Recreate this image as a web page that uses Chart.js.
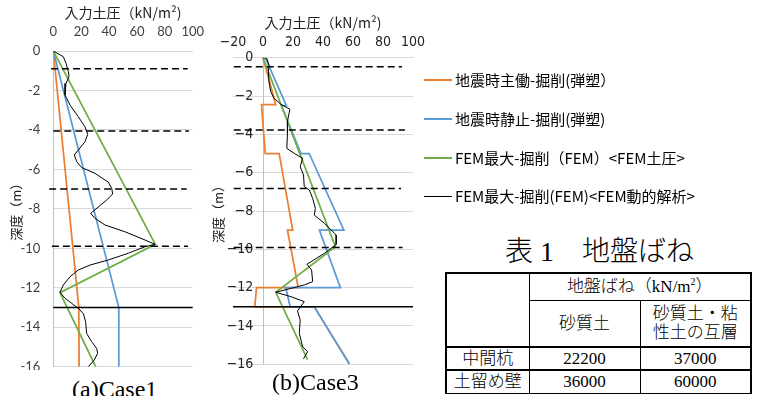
<!DOCTYPE html>
<html><head><meta charset="utf-8">
<script src="https://cdn.jsdelivr.net/npm/chart.js@4/dist/chart.umd.min.js"></script>
<style>
html,body{margin:0;padding:0;background:#fff;}
body{width:760px;height:396px;overflow:hidden;position:relative;font-family:"Noto Sans CJK JP",sans-serif;color:#000;}
canvas{position:absolute;top:0;}
#c1{left:0;width:206px;height:370px;}
#c2{left:200px;width:226px;height:368px;}
.cap{position:absolute;font-family:"Liberation Serif",serif;font-size:24px;line-height:24px;white-space:nowrap;color:#000;}
.lg{position:absolute;left:424px;height:20px;margin-top:-10px;display:flex;align-items:center;white-space:nowrap;font-size:15px;line-height:20px;color:#000;}
.ln{display:inline-block;width:28px;height:2px;margin-right:3px;}
#ttl{position:absolute;left:505px;top:236px;font-family:"Liberation Serif","Noto Sans CJK JP",serif;font-weight:300;font-size:28px;line-height:32px;white-space:nowrap;}
#tbl{position:absolute;left:445px;top:272px;border-collapse:collapse;table-layout:fixed;font-family:"Liberation Serif","Noto Sans CJK JP",serif;font-weight:300;font-size:17px;line-height:19px;}
#tbl td{border:1px solid #000;text-align:center;padding:0;}
#tbl td.wrap{padding:0 10px;}
#tbl tr.thick td{border-top:2px solid #000;}
</style></head>
<body>
<canvas id="c1" width="206" height="370"></canvas>
<canvas id="c2" width="226" height="368"></canvas>
<div class="cap" style="left:72px;top:377px;">(a)Case1</div>
<div class="cap" style="left:272px;top:370px;">(b)Case3</div>
<div id="legend"></div>
<div id="ttl">表 1　地盤ばね</div>
<table id="tbl">
<colgroup><col style="width:83px"><col style="width:111px"><col style="width:111px"></colgroup>
<tr style="height:27px"><td rowspan="2" style="border-left:2px solid #000;border-top:2px solid #000;"></td><td colspan="2" style="border-top:2px solid #000;border-right:2px solid #000;">地盤ばね（kN/m<sup style="font-size:10px;line-height:0">2</sup>）</td></tr>
<tr style="height:47px"><td>砂質土</td><td class="wrap" style="border-right:2px solid #000;">砂質土・粘性土の互層</td></tr>
<tr class="thick" style="height:23px"><td style="border-left:2px solid #000;">中間杭</td><td>22200</td><td style="border-right:2px solid #000;">37000</td></tr>
<tr class="thick" style="height:23px"><td style="border-left:2px solid #000;">土留め壁</td><td>36000</td><td style="border-right:2px solid #000;">60000</td></tr>
</table>
<script>
// ---------- data ----------
const depthTicks = [0,-2,-4,-6,-8,-10,-12,-14,-16];
const xTicks1 = [0,20,40,60,80,100];
const xTicks2 = [-20,0,20,40,60,80,100];
const seriesNames = ['地震時主働-掘削(弾塑）','地震時静止-掘削(弾塑)','FEM最大-掘削（FEM）<FEM土圧>','FEM最大-掘削(FEM)<FEM動的解析>'];
const seriesColors = ['#ED7D31','#5B9BD5','#70AD47','#000000'];

// Case1
const c1OrangeDepth = [0,-13,-16];
const c1OrangeVal   = [0,18.3,18.5];
const c1BlueDepth   = [0,-13,-16];
const c1BlueVal     = [0,47,47];
const c1GreenDepth  = [0,-9.8,-12.25,-16];
const c1GreenVal    = [0,73.2,4.8,30.4];
const c1BlackDepth  = [0,-0.29,-0.62,-1.05,-1.3,-1.64,-2.23,-2.74,-3.33,-3.84,-4.22,-4.6,-5.02,-5.27,-5.61,-5.91,-6.2,-6.65,-6.96,-7.25,-7.55,-8.23,-8.48,-8.82,-9.16,-9.58,-9.8,-9.92,-10.25,-10.59,-10.85,-11.1,-11.44,-11.86,-12.23,-12.53,-12.79,-13.04,-13.3,-13.72,-14.31,-14.73,-15.07,-15.32,-15.66,-16.0];
const c1BlackVal    = [0,7.2,9.1,10.8,11.3,9.1,8.4,12,17.9,22.7,24.7,22.7,17.9,15.1,16.8,20.4,29.9,39.5,41.9,42.6,38.3,26.8,29.9,37.1,51.4,65.8,73,65.8,53.8,39.5,26.3,17.9,12,7.2,4.8,8.4,13.2,17.9,21.5,23.2,23.9,27.5,31.1,31.8,29.4,25.1];
const c1DashDepth = [-0.9,-4.05,-7.0,-9.9];
const c1DashFrom  = [-1.6,0,-3,-1];
const c1DashTo    = [96.4,97.3,95.7,96.6];
const c1SolidDepth = [-13];
const c1SolidFrom  = [0];
const c1SolidTo    = [100];

// Case3
const c2OrangeDepth = [0,-2.45,-2.45,-5,-5,-9,-9,-12,-12,-13,-13,-16];
const c2OrangeVal   = [0,8.5,-1,1.5,10.8,19.8,16.3,23.5,-4.3,-5.5,34.2,57.7];
const c2BlueDepth   = [0,-2.5,-2.5,-5,-5,-9,-9,-12,-12,-13,-13,-16];
const c2BlueVal     = [1.5,15.6,12.3,25.3,30.8,53.9,37.6,51.6,15.2,18.1,34.2,57.7];
const c2GreenDepth  = [0,-9.86,-12.24,-15.75];
const c2GreenVal    = [0,48.3,8.5,29.7];
const c2BlackDepth  = [0,-0.03,-0.38,-0.73,-1.25,-1.77,-2.12,-2.43,-2.69,-3.34,-3.95,-4.73,-4.99,-5.25,-5.69,-6.12,-6.73,-6.9,-7.34,-7.86,-8.21,-8.64,-9.25,-9.74,-10.21,-10.56,-10.78,-11.08,-11.69,-11.86,-12.04,-12.24,-12.47,-12.73,-13.22,-13.69,-14.38,-15.08,-15.34,-15.72];
const c2BlackVal    = [0,2.5,4,3.6,4,5.1,7.4,11.9,17.9,16.3,16.3,15.9,20.8,26.4,24.8,27,27.5,30.9,33.1,34.9,34.2,40.9,48.8,48.8,40.9,33.8,29.3,32.4,33.1,27.5,18.6,8.5,18.6,27.5,23,24.8,24.2,26.4,29.7,27];
const c2DashDepth = [-0.47,-3.77,-6.82,-9.9];
const c2DashFrom  = [-19.5,-19.5,-19.5,-19.5];
const c2DashTo    = [92.6,94.6,92,93];
const c2SolidDepth = [-13];
const c2SolidFrom  = [-20];
const c2SolidTo    = [100];

// ---------- helpers ----------
function pts(vals, depths){ return vals.map((v,i)=>({x:v,y:depths[i]})); }
function series(vals, depths, idx){
  return {label:seriesNames[idx], data:pts(vals,depths), showLine:true, pointRadius:0,
    borderColor:seriesColors[idx], borderWidth: idx===3?1:1.75, fill:false, tension:0, yAxisID:'y'};
}
function guides(depths, from, to, dashed){
  return depths.map((d,i)=>({data:[{x:from[i],y:d},{x:to[i],y:d}], showLine:true, pointRadius:0,
    borderColor:'#000', borderWidth:1.5, borderDash: dashed?[7,4]:[], clip:false, yAxisID:'y'}));
}
const minus = v => v < 0 ? '\u2212' + Math.abs(v) : String(v);
const axisTitleFont = {family:'"Noto Sans CJK JP", sans-serif', size:14};
const tickColor = '#404040';
function noPad(s){ s.paddingLeft = 0; s.paddingRight = 0; s.paddingTop = 0; s.paddingBottom = 0; }

// ---------- Case1 ----------
const ds1 = [].concat(
  guides(c1SolidDepth,c1SolidFrom,c1SolidTo,false),
  guides(c1DashDepth,c1DashFrom,c1DashTo,true),
  [series(c1BlackVal,c1BlackDepth,3), series(c1GreenVal,c1GreenDepth,2),
   series(c1BlueVal,c1BlueDepth,1), series(c1OrangeVal,c1OrangeDepth,0)]
);
new Chart(document.getElementById('c1'), {
  type:'scatter',
  data:{datasets:ds1},
  options:{
    responsive:false, animation:false, devicePixelRatio:1,
    layout:{padding:{left:0,right:13.3,top:0,bottom:3.3}},
    plugins:{legend:{display:false}, tooltip:{enabled:false}},
    scales:{
      x:{type:'linear', position:'top', min:xTicks1[0], max:xTicks1[xTicks1.length-1],
         afterBuildTicks(s){ s.ticks = xTicks1.map(v=>({value:v})); },
         ticks:{padding:11.2, color:tickColor, font:{family:'Lato, sans-serif', size:13}, maxRotation:0, minRotation:0, autoSkip:false},
         grid:{display:false, drawTicks:false}, border:{display:true, color:'#d9d9d9'},
         title:{display:true, text:'入力土圧（kN/m²)', color:'#222', font:axisTitleFont, padding:{top:4.6,bottom:0}},
         afterFit(s){ s.height = 51; noPad(s); }},
      y:{type:'linear', position:'left', min:-16, max:0,
         afterBuildTicks(s){ s.ticks = depthTicks.map(v=>({value:v})); },
         ticks:{padding:13, color:tickColor, font:{family:'Lato, sans-serif', size:13}, autoSkip:false},
         grid:{color:'#d9d9d9', drawTicks:false}, border:{display:true, color:'#bfbfbf'},
         title:{display:true, text:'深度（m）', color:'#222', font:{family:'"Noto Sans CJK JP", sans-serif', size:13}, padding:{top:8,bottom:0}},
         afterFit(s){ s.width = 53.3; noPad(s); }}
    }
  }
});

// ---------- Case3 ----------
const ds2 = [].concat(
  guides(c2SolidDepth,c2SolidFrom,c2SolidTo,false),
  guides(c2DashDepth,c2DashFrom,c2DashTo,true),
  [series(c2BlackVal,c2BlackDepth,3), series(c2GreenVal,c2GreenDepth,2),
   series(c2BlueVal,c2BlueDepth,1), series(c2OrangeVal,c2OrangeDepth,0)]
);
const narrow = {family:'"Liberation Sans Narrow", "Arial Narrow", "DejaVu Sans Condensed", sans-serif', size:14};
new Chart(document.getElementById('c2'), {
  type:'scatter',
  data:{datasets:ds2},
  options:{
    responsive:false, animation:false, devicePixelRatio:1,
    layout:{padding:{left:0,right:13,top:0,bottom:3.7}},
    plugins:{legend:{display:false}, tooltip:{enabled:false}},
    scales:{
      x:{type:'linear', position:'top', min:xTicks2[0], max:xTicks2[xTicks2.length-1],
         afterBuildTicks(s){ s.ticks = xTicks2.map(v=>({value:v})); },
         ticks:{padding:7.3, color:'#222', font:narrow, callback:minus, maxRotation:0, minRotation:0, autoSkip:false},
         grid:{display:false, drawTicks:false}, border:{display:true, color:'#d9d9d9'},
         title:{display:true, text:'入力土圧（kN/m²)', color:'#222', font:axisTitleFont, padding:{top:14.6,bottom:0}},
         afterFit(s){ s.height = 57.7; noPad(s); }},
      yt:{type:'linear', position:'left', min:-16, max:0,
         ticks:{display:false}, grid:{display:false, drawTicks:false}, border:{display:false},
         title:{display:true, text:'深度（m）', color:'#222', font:{family:'"Noto Sans CJK JP", sans-serif', size:13}, padding:{top:10,bottom:0}},
         afterFit(s){ s.width = 33; noPad(s); }},
      y:{type:'linear', position:{x:-6.5}, min:-16, max:0,
         afterBuildTicks(s){ s.ticks = depthTicks.map(v=>({value:v})); },
         ticks:{color:'#222', font:narrow, callback:minus, autoSkip:false},
         grid:{color:'#d9d9d9', drawTicks:false}, border:{display:false},
         afterFit(s){ noPad(s); }},
      yb:{type:'linear', position:{x:0}, min:-16, max:0,
         ticks:{display:false}, grid:{display:false, drawTicks:false}, border:{display:true, color:'#bfbfbf'},
         afterFit(s){ noPad(s); }}
    }
  }
});

// ---------- legend ----------
const legendY = [80,119,158,196];
const lg = document.getElementById('legend');
seriesNames.forEach((n,i)=>{
  const d = document.createElement('div');
  d.className = 'lg'; d.style.top = legendY[i]+'px';
  const l = document.createElement('span'); l.className='ln'; l.style.background = seriesColors[i];
  if (i===3) l.style.height='1px';
  const t = document.createElement('span'); t.textContent = n;
  d.appendChild(l); d.appendChild(t); lg.appendChild(d);
});
</script>
</body></html>
